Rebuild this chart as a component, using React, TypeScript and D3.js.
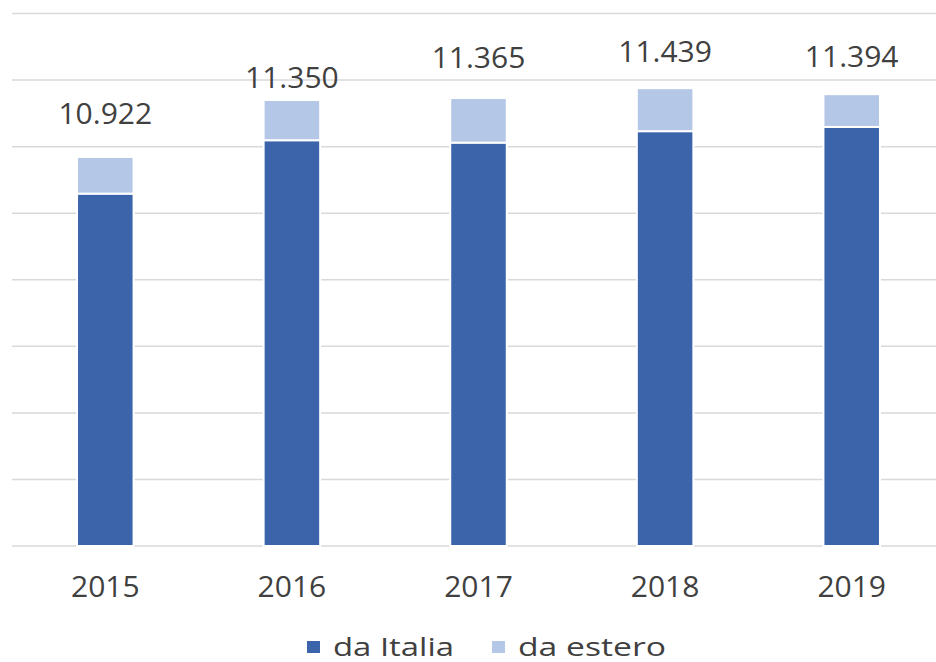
import React from 'react';
import * as d3 from 'd3';

// Arrivals by origin, 2015-2019 (in units)
const years = ['2015', '2016', '2017', '2018', '2019'];
const daItalia = [10647, 11048, 11030, 11116, 11148];
const totals = [10922, 11350, 11365, 11439, 11394];
const daEstero = [275, 302, 335, 323, 246];
// where the total labels sit on the value axis (Excel placed them by hand)
const labelAnchor = [11170, 11441, 11591, 11636, 11599];
const yTicks = [8000, 8500, 9000, 9500, 10000, 10500, 11000, 11500, 12000];
const seriesNames = ['da Italia', 'da estero'];

const W = 936;
const H = 662;
const COLORS = ['#3b64ab', '#b4c7e7'];
const FONT = '"Open Sans", "DejaVu Sans", sans-serif';
const TEXT = '#404040';

const fmt = (v: number) => d3.format(',')(v).replace(/,/g, '.');

export default function App() {
  const x = d3.scaleBand<string>().domain(years).range([12, 945]).paddingInner(0.697).paddingOuter(0.3485);
  const y = d3.scaleLinear().domain([8000, 12000]).range([546, 13.5]);
  const bw = x.bandwidth();

  const stack = years.map((yr, i) => ({ yr, segs: [[8000, daItalia[i]], [daItalia[i], daItalia[i] + daEstero[i]]] }));

  return (
    <svg width={W} height={H} style={{ position: 'absolute', left: 0, top: 0, background: '#fff' }}>
      {/* gridlines */}
      {yTicks.map(t => (
        <line key={t} x1={12} x2={W} y1={y(t)} y2={y(t)} stroke="#d9d9d9" strokeWidth={1.5} />
      ))}
      {/* stacked bars */}
      {stack.map(d => (
        <g key={d.yr}>
          {d.segs.map((s, j) => (
            <rect key={j} x={x(d.yr)} width={bw} y={y(s[1])} height={y(s[0]) - y(s[1])}
              fill={COLORS[j]} stroke="#fff" strokeWidth={2} />
          ))}
        </g>
      ))}
      {/* total labels */}
      {years.map((yr, i) => (
        <text key={yr} x={(x(yr) as number) + bw / 2} y={y(labelAnchor[i])} textAnchor="middle"
          fontFamily={FONT} fontSize={30} fill={TEXT}>{fmt(totals[i])}</text>
      ))}
      {/* category axis */}
      {years.map(yr => (
        <text key={yr} x={(x(yr) as number) + bw / 2} y={597} textAnchor="middle"
          fontFamily={FONT} fontSize={30} fill={TEXT}>{yr}</text>
      ))}
      {/* legend */}
      {seriesNames.map((n, i) => {
        const lx = [307, 492][i];
        return (
          <g key={n}>
            <rect x={lx} y={641} width={13} height={12} fill={COLORS[i]} />
            <text x={lx + 26} y={655.5} fontFamily={FONT} fontSize={26} fill={TEXT}
              textLength={[121, 148][i]} lengthAdjust="spacingAndGlyphs">{n}</text>
          </g>
        );
      })}
    </svg>
  );
}
